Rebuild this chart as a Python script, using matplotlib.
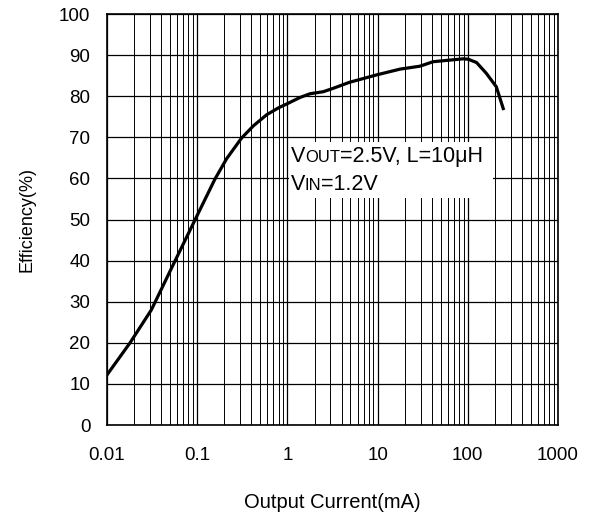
import matplotlib
matplotlib.use("Agg")
import matplotlib.pyplot as plt
from matplotlib.ticker import LogLocator, FixedLocator
from matplotlib.patches import Rectangle
from matplotlib.offsetbox import TextArea, HPacker, VPacker, AnnotationBbox

plt.rcParams['font.family'] = ['Liberation Sans', 'DejaVu Sans']

# efficiency curve
current_ma = [0.01, 0.018, 0.031, 0.057, 0.095, 0.157, 0.212, 0.31, 0.42, 0.59, 0.8,
              0.98, 1.38, 1.78, 2.5, 3.2, 4.9, 9.8, 17.8, 29.4, 41.3, 89, 101, 125,
              160, 207, 247]
efficiency = [12.2, 20, 28, 40, 50, 59.8, 64.8, 69.8, 72.8, 75.5, 77.2,
              78.1, 79.7, 80.6, 81.1, 81.9, 83.4, 85.2, 86.6, 87.3, 88.4, 89.1, 89.0, 88.2,
              85.6, 82.3, 77.0]

x_ticks = [0.01, 0.1, 1, 10, 100, 1000]
x_labels = ["0.01", "0.1", "1", "10", "100", "1000"]
y_ticks = list(range(0, 101, 10))

fig = plt.figure(figsize=(5.93, 5.19), dpi=100)
ax = fig.add_axes([0.1804, 0.181, 0.7606, 0.792])

ax.set_xscale('log')
ax.set_xlim(0.01, 1000)
ax.set_ylim(0, 100)
ax.xaxis.set_major_locator(FixedLocator(x_ticks))
ax.xaxis.set_minor_locator(LogLocator(base=10, subs=range(2, 10), numticks=20))
ax.xaxis.set_minor_formatter(plt.NullFormatter())
ax.set_xticks(x_ticks)
ax.set_xticklabels(x_labels)
ax.set_yticks(y_ticks)

ax.grid(True, which='major', color='black', linewidth=0.9)
ax.grid(True, which='minor', axis='x', color='black', linewidth=0.7)
ax.set_axisbelow(True)

ax.tick_params(axis='both', which='both', length=0, labelsize=13.5)
ax.tick_params(axis='x', pad=16)
ax.tick_params(axis='y', pad=12)
for s in ax.spines.values():
    s.set_linewidth(1.2)

ax.plot(current_ma, efficiency, color='black', linewidth=2.3, zorder=3)

ax.set_xlabel('Output Current(mA)', fontsize=14.5, labelpad=21)
ax.set_ylabel('Efficiency(%)', fontsize=13, labelpad=17)

# white box for the condition note
ax.add_patch(Rectangle((1.03, 55.3), 190 - 1.03, 68.8 - 55.3,
                       facecolor='white', edgecolor='none', zorder=2))

big = dict(fontsize=15.5, color='black')
small = dict(fontsize=12, color='black')
line1 = HPacker(children=[TextArea("V", textprops=big), TextArea("OUT", textprops=small),
                          TextArea("=2.5V, L=10\u03bcH", textprops=big)],
                align="baseline", pad=0, sep=0)
line2 = HPacker(children=[TextArea("V", textprops=big), TextArea("IN", textprops=small),
                          TextArea("=1.2V", textprops=big)],
                align="baseline", pad=0, sep=0)
note = VPacker(children=[line1, line2], align="left", pad=0, sep=5)
ab = AnnotationBbox(note, (1.08, 67.8), xycoords='data', box_alignment=(0, 1),
                    frameon=False, zorder=4)
ax.add_artist(ab)

fig.savefig('out.png', dpi=100)
